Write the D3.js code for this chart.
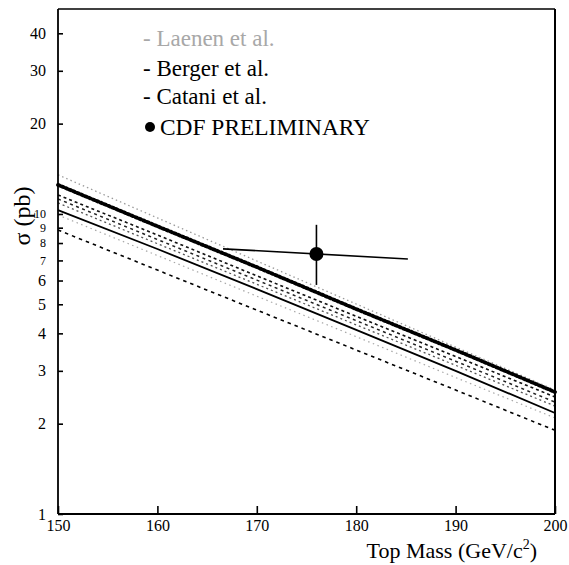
<!DOCTYPE html>
<html>
<head>
<meta charset="utf-8">
<script src="https://cdn.jsdelivr.net/npm/d3@7"></script>
<style>
  html, body { margin: 0; padding: 0; background: #fff; }
  svg { display: block; }
  text { font-family: "Liberation Serif", "DejaVu Serif", serif; }
</style>
</head>
<body>
<svg id="chart" width="569" height="565"></svg>
<script>
// ---- data ----
const masses = [150, 160, 170, 180, 190, 200];
const thickCurve   = [12.5, 9.1, 6.65, 4.82, 3.52, 2.55];
const laenenUpper  = [13.5, 9.7, 6.97, 5.01, 3.60, 2.59];
const dashed1      = [11.57, 8.51, 6.22, 4.56, 3.35, 2.455];
const dashed2      = [11.22, 8.22, 6.02, 4.41, 3.23, 2.36];
const dotted3      = [10.88, 7.96, 5.83, 4.27, 3.13, 2.29];
const solidCurve   = [10.3, 7.64, 5.62, 4.11, 3.00, 2.17];
const laenenLower  = [9.92, 7.27, 5.32, 3.90, 2.85, 2.09];
const lowestDashed = [8.84, 6.5, 4.78, 3.52, 2.59, 1.9];

const cdfMass = [176];
const cdfSigma = [7.35];
const cdfSigmaLow = [5.8];
const cdfSigmaHigh = [9.2];
const cdfMassLow = [166.6];
const cdfMassHigh = [185.2];
const cdfBarSigmaLeft = [7.65];
const cdfBarSigmaRight = [7.08];

const xTicks = [150, 160, 170, 180, 190, 200];
const yTicks = [1, 2, 3, 4, 5, 6, 7, 8, 9, 10, 20, 30, 40];
const legendLabels = ["- Laenen et al.", "- Berger et al.", "- Catani et al.", "CDF PRELIMINARY"];
const xTitle = "Top Mass (GeV/c";
const yTitle = "σ (pb)";

// ---- drawing ----
(function () {
const svg = d3.select("#chart");
const pL = 58, pR = 555, pT = 9, pB = 514;
const x = d3.scaleLinear().domain([150, 200]).range([pL, pR]);
const y = d3.scaleLog().domain([1, 48.2]).range([pB, pT]);

const line = d3.line().x((d, i) => x(masses[i])).y(d => y(d));

const curves = [
  { data: laenenUpper,  stroke: "#9a9a9a", width: 1.3, dash: "1.5,3" },
  { data: laenenLower,  stroke: "#a8a8a8", width: 1.2, dash: "1.5,3.5" },
  { data: dotted3,      stroke: "#555",    width: 1.3, dash: "2,3" },
  { data: dashed2,      stroke: "#222",    width: 1.5, dash: "3,3.5" },
  { data: dashed1,      stroke: "#111",    width: 1.6, dash: "3,3" },
  { data: lowestDashed, stroke: "#000",    width: 1.6, dash: "3.5,4" },
  { data: solidCurve,   stroke: "#000",    width: 1.8, dash: null },
  { data: thickCurve,   stroke: "#000",    width: 2.2, dash: null },
];
const g = svg.append("g");
curves.forEach(c => {
  const p = g.append("path").datum(c.data)
    .attr("d", line).attr("fill", "none")
    .attr("stroke", c.stroke).attr("stroke-width", c.width);
  if (c.dash) p.attr("stroke-dasharray", c.dash);
});
// beaded look on the thick curve
g.append("path").datum(thickCurve).attr("d", line).attr("fill", "none")
  .attr("stroke", "#000").attr("stroke-width", 3.8)
  .attr("stroke-dasharray", "1.6,2.6").attr("stroke-linecap", "round");

// axes
const yAxis = d3.axisLeft(y).tickValues(yTicks).tickFormat(d3.format("d"))
  .tickSizeInner(-5).tickSizeOuter(0).tickPadding(12);
const yg = svg.append("g").attr("transform", `translate(${pL},0)`).call(yAxis);
yg.select(".domain").remove();
yg.selectAll(".tick line").attr("stroke", "#000").attr("stroke-width", 1.6);
yg.selectAll(".tick text")
  .attr("font-size", d => (d >= 7 && d <= 10) ? 12 : 16)
  .attr("font-family", "Liberation Serif, serif")
  .style("fill", "#000");

const xAxis = d3.axisBottom(x).tickValues(xTicks).tickFormat(d3.format("d"))
  .tickSizeInner(-8).tickSizeOuter(0).tickPadding(6);
const xg = svg.append("g").attr("transform", `translate(0,${pB})`).call(xAxis);
xg.select(".domain").remove();
xg.selectAll(".tick line").attr("stroke", "#000").attr("stroke-width", 1.6);
xg.selectAll(".tick text").attr("font-size", 16).attr("font-family", "Liberation Serif, serif").style("fill", "#000");

// frame
svg.append("line").attr("x1", pL).attr("x2", pL).attr("y1", pT).attr("y2", pB).attr("stroke", "#000").attr("stroke-width", 1.8);
svg.append("line").attr("x1", pL).attr("x2", pR).attr("y1", pB).attr("y2", pB).attr("stroke", "#000").attr("stroke-width", 2);
svg.append("line").attr("x1", pR).attr("x2", pR).attr("y1", pT).attr("y2", pB).attr("stroke", "#000").attr("stroke-width", 2);
svg.append("line").attr("x1", pL).attr("x2", pR).attr("y1", pT).attr("y2", pT).attr("stroke", "#000").attr("stroke-width", 1.6);

// CDF point with error bars
const pt = svg.append("g");
cdfMass.forEach((m, i) => {
  pt.append("line").attr("x1", x(m)).attr("x2", x(m))
    .attr("y1", y(cdfSigmaLow[i])).attr("y2", y(cdfSigmaHigh[i]))
    .attr("stroke", "#000").attr("stroke-width", 1.6);
  pt.append("line").attr("x1", x(cdfMassLow[i])).attr("x2", x(cdfMassHigh[i]))
    .attr("y1", y(cdfBarSigmaLeft[i])).attr("y2", y(cdfBarSigmaRight[i]))
    .attr("stroke", "#000").attr("stroke-width", 1.6);
  pt.append("circle").attr("cx", x(m)).attr("cy", y(cdfSigma[i])).attr("r", 7).attr("fill", "#000");
});

// legend
const legX = 143;
const legY = [46, 76, 104, 135];
const legColors = ["#a8a8a8", "#000", "#000", "#000"];
legendLabels.forEach((t, i) => {
  if (i === 3) {
    svg.append("circle").attr("cx", legX + 7).attr("cy", legY[i] - 8).attr("r", 5).attr("fill", "#000");
    svg.append("text").attr("x", legX + 17).attr("y", legY[i]).attr("font-size", 24)
      .attr("textLength", 210).attr("lengthAdjust", "spacingAndGlyphs")
      .style("fill", "#000").text(t);
  } else {
    svg.append("text").attr("x", legX).attr("y", legY[i]).attr("font-size", 23)
      .style("fill", legColors[i]).text(t);
  }
});

// axis titles
const xt = svg.append("text").attr("x", 537).attr("y", 558).attr("text-anchor", "end")
  .attr("font-size", 22).style("fill", "#000");
xt.append("tspan").text(xTitle);
xt.append("tspan").attr("font-size", 14).attr("dy", -9).text("2");
xt.append("tspan").attr("dy", 9).text(")");

svg.append("text").attr("transform", "translate(30,216) rotate(-90)")
  .attr("text-anchor", "middle").attr("font-size", 24).style("fill", "#000").text(yTitle);
})();
</script>
</body>
</html>
